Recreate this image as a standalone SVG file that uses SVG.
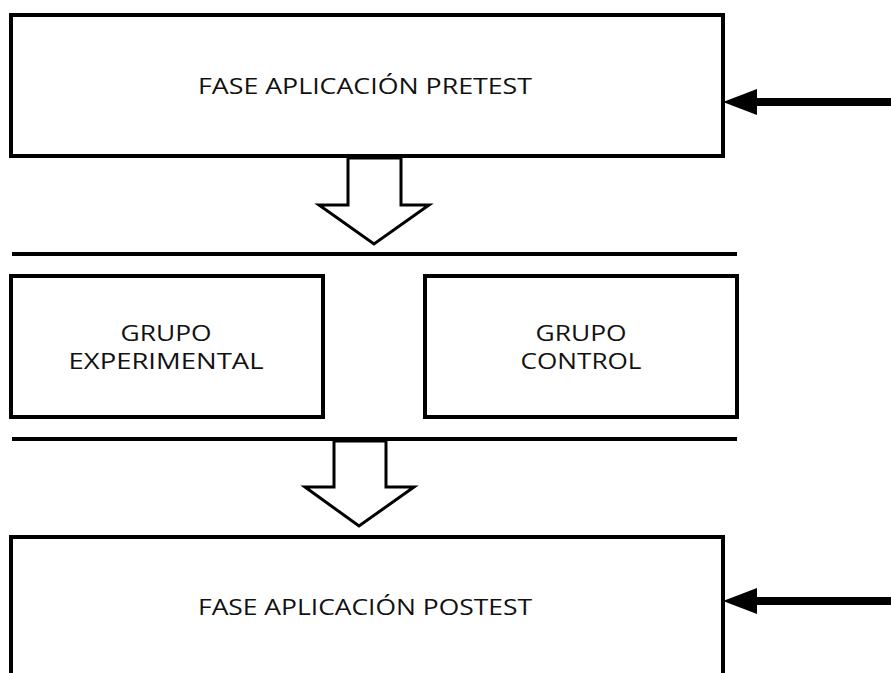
<svg xmlns="http://www.w3.org/2000/svg" width="891" height="673" viewBox="0 0 891 673">
<style>
.box{fill:#fff;stroke:#000;stroke-width:4}
.sep{stroke:#000;stroke-width:4}
.hollow{fill:#fff;stroke:#000;stroke-width:3;stroke-linejoin:miter}
.solid{fill:#000}
.t{font-family:"Open Sans","Liberation Sans",sans-serif;font-size:22px;fill:#111;text-anchor:middle}
</style>
<rect width="891" height="673" fill="#fff"/>
<g id="pretest">
<rect class="box" x="11" y="15" width="712" height="141"/>
<text class="t" x="365" y="94" textLength="334" lengthAdjust="spacingAndGlyphs">FASE APLICACIÓN PRETEST</text>
</g>
<g id="experimental">
<rect class="box" x="11" y="276" width="312" height="141"/>
<text class="t" x="166" y="341" textLength="91" lengthAdjust="spacingAndGlyphs">GRUPO</text>
<text class="t" x="166" y="369" textLength="195" lengthAdjust="spacingAndGlyphs">EXPERIMENTAL</text>
</g>
<g id="control">
<rect class="box" x="425" y="276" width="312" height="141"/>
<text class="t" x="581" y="341" textLength="91" lengthAdjust="spacingAndGlyphs">GRUPO</text>
<text class="t" x="581" y="369" textLength="121" lengthAdjust="spacingAndGlyphs">CONTROL</text>
</g>
<g id="postest">
<rect class="box" x="11" y="537" width="712" height="150"/>
<text class="t" x="365" y="615" textLength="334" lengthAdjust="spacingAndGlyphs">FASE APLICACIÓN POSTEST</text>
</g>
<g id="connectors">
<line class="sep" x1="12" y1="254" x2="737" y2="254"/>
<line class="sep" x1="12" y1="439" x2="737" y2="439"/>
<polygon class="hollow" points="348,158 401,158 401,205 429,205 374,244 319,205 348,205"/>
<polygon class="hollow" points="334,441 386,441 386,487 414,487 359,526 305,487 334,487"/>
<rect class="solid" x="750" y="98" width="141" height="8"/>
<polygon class="solid" points="723,102 757,89 757,115"/>
<rect class="solid" x="750" y="597" width="141" height="8"/>
<polygon class="solid" points="723,601 757,588 757,614"/>
</g>
</svg>
